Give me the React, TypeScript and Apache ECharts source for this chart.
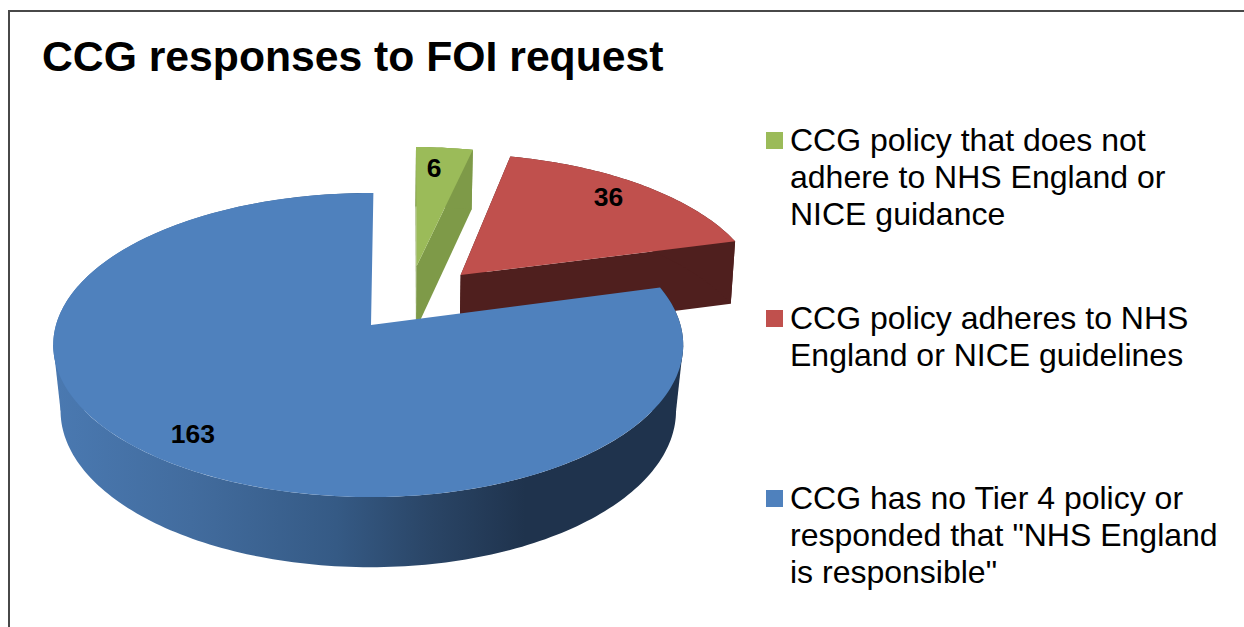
import React, { useEffect, useRef } from "react";
import * as echarts from "echarts";

const titleText = "CCG responses to FOI request";
const categories = [
  "CCG policy that does not\nadhere to NHS England or\nNICE guidance",
  "CCG policy adheres to NHS\nEngland or NICE guidelines",
  "CCG has no Tier 4 policy or\nresponded that \"NHS England\nis responsible\"",
];
const values = [6, 36, 163];
const topColors = ["#9bbb59", "#c0504d", "#4f81bd"];
const wallColors = ["#7e9a48", "#4f1f1e", ""];

// Offset of each slice from the pie centre, in units of the pie radius.
const explode: [number, number][] = [[0.155, 0.414], [0.303, 0.35], [0, 0]];
// Small angular corrections (degrees) to the start and end edge of each slice.
const edgeNudge: [number, number][] = [[1, 3], [2.5, 1.5], [1.2, 0.5]];
// Horizontal shrink of each slice's lower rim relative to its upper rim.
const bottomScaleX = [0.988, 0.988, 0.977];
// Pixel correction of each value label.
const labelShift: [number, number][] = [[-6, 2], [-5, -2], [-3, 2]];
const legendTops = [121, 299, 479];

// Perspective projection of the pie's top and bottom discs.
const CX = 371, CY = 325, A_LEFT = 315, A_RIGHT = 309.5, B = 149.4, K = 0.1316;
const DROP = 65, BOTTOM_SY = 1.03;

function project(i: number, u: number, v: number, bottom: boolean): number[] {
  const d = 1 + K * v;
  const a = u < 0 ? A_LEFT : A_RIGHT;
  return bottom
    ? [CX + (a * bottomScaleX[i] * u) / d, CY + DROP - (B * BOTTOM_SY * v) / d]
    : [CX + (a * u) / d, CY - (B * v) / d];
}

function arcPoints(i: number, a0: number, a1: number, bottom: boolean): number[][] {
  const [ex, ey] = explode[i];
  const n = Math.max(2, Math.ceil(Math.abs(a1 - a0) / 0.02));
  const pts: number[][] = [];
  for (let s = 0; s <= n; s++) {
    const a = a0 + ((a1 - a0) * s) / n;
    pts.push(project(i, ex + Math.sin(a), ey + Math.cos(a), bottom));
  }
  return pts;
}

const extremeX = (pts: number[][], sign: number) =>
  pts.reduce((best, p) => (sign * p[0] > sign * best[0] ? p : best), pts[0]);

const total = values.reduce((a, b) => a + b, 0);

function renderSlice(params: any, api: any) {
  const i = params.dataIndex;
  const value = api.value(0);
  const before = values.slice(0, i).reduce((a, b) => a + b, 0);
  const rad = Math.PI / 180;
  const a0 = (before / total) * 2 * Math.PI + edgeNudge[i][0] * rad;
  const a1 = ((before + value) / total) * 2 * Math.PI + edgeNudge[i][1] * rad;
  const [ex, ey] = explode[i];
  const topApex = project(i, ex, ey, false);
  const botApex = project(i, ex, ey, true);
  const topArc = arcPoints(i, a0, a1, false);
  // The large slice's wall stops short of its back edge, which stays hidden behind the top face.
  const wallEnd = i === 2 ? a1 - 2 * rad : a1;
  const wallTop = arcPoints(i, a0, wallEnd, false);
  const wallBottom = arcPoints(i, a0, wallEnd, true);

  const wallFill: any =
    i === 2
      ? new echarts.graphic.LinearGradient(
          53, 0, 682, 0,
          [
            { offset: 0, color: "#4a79b1" },
            { offset: 0.22, color: "#426c9e" },
            { offset: 0.45, color: "#355a85" },
            { offset: 0.6, color: "#2a4566" },
            { offset: 0.75, color: "#1f334d" },
            { offset: 1, color: "#1f334d" },
          ],
          true,
        )
      : wallColors[i];

  const children: any[] = [];
  if (i !== 2) {
    children.push({
      type: "polygon",
      shape: { points: [topApex, wallTop[0], wallBottom[0], botApex] },
      style: { fill: wallFill },
    });
    children.push({
      type: "polygon",
      shape: {
        points: [topApex, wallTop[wallTop.length - 1], wallBottom[wallBottom.length - 1], botApex],
      },
      style: { fill: wallFill },
    });
  } else {
    // Body between the silhouette edges, so the side wall reaches the rim's widest points.
    children.push({
      type: "polygon",
      shape: {
        points: [
          extremeX(wallTop, -1),
          extremeX(wallBottom, -1),
          extremeX(wallBottom, 1),
          extremeX(wallTop, 1),
        ],
      },
      style: { fill: wallFill },
    });
  }
  children.push({
    type: "polygon",
    shape: { points: [...wallTop, ...wallBottom.slice().reverse()] },
    style: { fill: wallFill },
  });
  children.push({
    type: "polygon",
    shape: { points: [topApex, ...topArc] },
    style: { fill: topColors[i] },
  });

  // Value label, placed along the slice's middle direction.
  const mid = (a0 + a1) / 2;
  const lp = project(i, ex + 0.83 * Math.sin(mid), ey + 0.83 * Math.cos(mid), false);
  children.push({
    type: "text",
    x: lp[0] + labelShift[i][0],
    y: lp[1] + labelShift[i][1],
    z2: 10,
    style: {
      text: String(value),
      fill: "#000",
      font: 'bold 26.5px "Liberation Sans", Arial, sans-serif',
      textAlign: "center",
      textVerticalAlign: "middle",
    },
  });
  return { type: "group", children };
}

export default function App() {
  const ref = useRef<HTMLDivElement>(null);
  useEffect(() => {
    document.body.style.margin = "0";
    document.body.style.overflow = "hidden";
    const chart = echarts.init(ref.current!, undefined, { renderer: "svg" });
    const legendItems: any[] = [];
    categories.forEach((name, i) => {
      legendItems.push({
        type: "rect",
        shape: { x: 766, y: legendTops[i] + 11, width: 17, height: 17 },
        style: { fill: topColors[i] },
      });
      legendItems.push({
        type: "text",
        x: 790,
        y: legendTops[i],
        style: {
          text: name,
          fill: "#000",
          font: '32px "Liberation Sans", Arial, sans-serif',
          lineHeight: 37,
        },
      });
    });
    chart.setOption({
      animation: false,
      backgroundColor: "#ffffff",
      title: {
        text: titleText,
        left: 42,
        top: 34,
        padding: 0,
        textStyle: {
          fontFamily: '"Liberation Sans", Arial, sans-serif',
          fontWeight: "bold",
          fontSize: 42.7,
          color: "#000",
        },
      },
      graphic: [
        {
          type: "rect",
          silent: true,
          shape: { x: 9, y: 11, width: 1400, height: 800 },
          style: { fill: "none", stroke: "#484848", lineWidth: 2 },
        },
        ...legendItems,
      ],
      series: [
        {
          type: "custom",
          coordinateSystem: "none",
          renderItem: renderSlice,
          data: values.map((v) => [v]),
        },
      ],
    });
    return () => chart.dispose();
  }, []);
  return <div ref={ref} style={{ width: 1244, height: 627 }} />;
}
